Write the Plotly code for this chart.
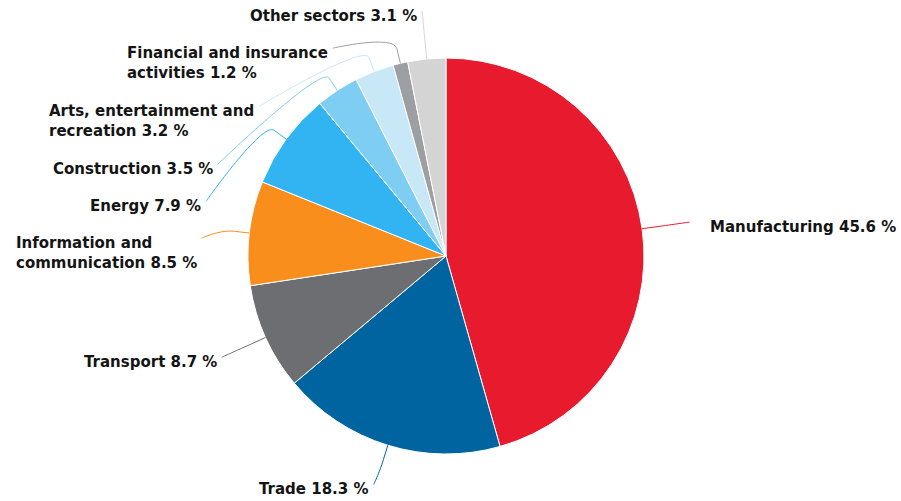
import math
import textwrap
import plotly.graph_objects as go

# Share of value added by sector (%)
sectors = [
    "Manufacturing",
    "Trade",
    "Transport",
    "Information and communication",
    "Energy",
    "Construction",
    "Arts, entertainment and recreation",
    "Financial and insurance activities",
    "Other sectors",
]
shares = [45.6, 18.3, 8.7, 8.5, 7.9, 3.5, 3.2, 1.2, 3.1]
colors = [
    "#e71a2e", "#0064a0", "#6d6e72", "#f98e1d", "#33b4f2",
    "#7ecdf3", "#c8e8f8", "#9d9fa2", "#d4d4d4",
]

W, H = 901, 501
CX, CY, R = 446, 256, 198          # pie centre and radius (px)
LABEL_R = 246                      # radius of the label circle
FONT = dict(family="DejaVu Sans", size=15, color="#141414")
LINE_H = 21                        # height of one text line (px)
GAP = 16                           # minimum spacing between stacked labels

fig = go.Figure()
fig.add_trace(go.Pie(
    labels=sectors, values=shares, sort=False, direction="clockwise",
    rotation=0, marker=dict(colors=colors, line=dict(color="white", width=1)),
    textinfo="none", hoverinfo="label+percent", showlegend=False,
    domain=dict(x=[(CX - R) / W, (CX + R) / W],
                y=[(H - CY - R) / H, (H - CY + R) / H]),
))

# label geometry, following the slice mid-angles
total = sum(shares)
cum = 0.0
items = []
for name, v, col in zip(sectors, shares, colors):
    mid = (cum + v / 2) / total * 2 * math.pi
    cum += v
    ux, uy = math.sin(mid), -math.cos(mid)
    lines = textwrap.wrap(f"{name} {v} %", width=23)
    h = len(lines) * LINE_H
    natural = CY + LABEL_R * uy - 7.5      # natural top of the text block
    top = min(natural, H - h - 3)          # keep the block inside the figure
    items.append(dict(ux=ux, uy=uy, col=col, lines=lines,
                      left=ux < 0, top=top, natural=natural, h=h))

# push overlapping labels down, side by side
for side in (True, False):
    group = sorted([it for it in items if it["left"] == side], key=lambda d: d["top"])
    prev_bottom = -1e9
    for it in group:
        it["top"] = max(it["top"], prev_bottom + GAP)
        prev_bottom = it["top"] + it["h"]

shapes, annotations = [], []
for it in items:
    ay = it["top"] + 7.5                          # connector end at the label
    # height used to place the label on the circle
    yx = max(it["top"], it["natural"]) + 7.5 - (len(it["lines"]) - 1) * LINE_H / 2
    dy = max(-1.0, min(1.0, (yx - CY) / LABEL_R))
    dx = math.cos(math.asin(dy)) * LABEL_R
    ax = CX - dx if it["left"] else CX + dx
    tx, ty = CX + R * it["ux"], CY + R * it["uy"]
    bx, by = CX + (R + 15) * it["ux"], CY + (R + 15) * it["uy"]
    c2x, c2y = CX + (R + 30) * it["ux"], CY + (R + 30) * it["uy"]
    path = (f"M {ax:.1f} {ay:.1f} C {ax:.1f} {ay:.1f} {c2x:.1f} {c2y:.1f} "
            f"{bx:.1f} {by:.1f} L {tx:.1f} {ty:.1f}")
    shapes.append(dict(type="path", xref="x", yref="y", path=path,
                       line=dict(color=it["col"], width=1), layer="above"))
    annotations.append(dict(
        x=ax - 3 if it["left"] else ax + 18, y=it["top"] + 1,
        xref="x", yref="y", showarrow=False,
        xanchor="right" if it["left"] else "left", yanchor="top", align="left",
        text="<br>".join(f"<b>{ln}</b>" for ln in it["lines"]),
        font=FONT,
    ))

fig.update_layout(
    width=W, height=H, margin=dict(l=0, r=0, t=0, b=0),
    paper_bgcolor="white", plot_bgcolor="white",
    xaxis=dict(range=[0, W], visible=False, fixedrange=True),
    yaxis=dict(range=[H, 0], visible=False, fixedrange=True),
    shapes=shapes, annotations=annotations,
)

fig.write_html("out.html")
